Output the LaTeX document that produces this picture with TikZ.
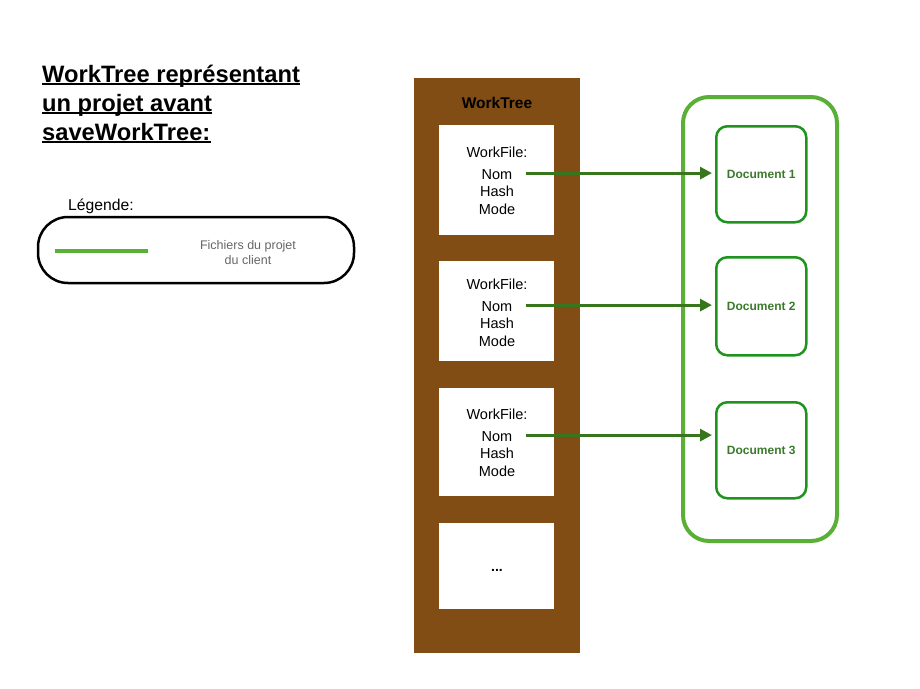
\documentclass[tikz,border=0pt]{standalone}
\usepackage{fontspec}
\setmainfont{Liberation Sans}
\usetikzlibrary{arrows.meta}
\definecolor{treebrown}{HTML}{814D14}
\definecolor{projgreen}{HTML}{5AAF37}
\definecolor{docgreen}{HTML}{1E931E}
\definecolor{linkgreen}{HTML}{38761D}
\definecolor{doctext}{HTML}{3A7A2A}
\newcommand{\fsz}[1]{\fontsize{#1}{#1}\selectfont}
\tikzset{
  titleline/.style={anchor=base west, inner sep=0pt, font=\bfseries\fsz{23.7}},
  fileline/.style={font=\fsz{14.5}, anchor=base, inner sep=0pt},
  docbox/.style={draw=docgreen, line width=2.5pt, rounded corners=11pt, anchor=north west, inner sep=0pt},
  doclabel/.style={font=\bfseries\fsz{12}, text=doctext, inner sep=0pt},
  link/.style={draw=linkgreen, line width=3pt, -{Triangle[length=12pt,width=12pt]}},
}
\begin{document}
\begin{tikzpicture}[x=1pt, y=-1pt, line join=round]
  \useasboundingbox (0,0) rectangle (920,688);
  % titre
  \node[titleline] (title1) at (42,82) {WorkTree représentant};
  \node[titleline] (title2) at (42,111) {un projet avant};
  \node[titleline] (title3) at (42,140) {saveWorkTree:};
  \foreach \t in {title1,title2,title3}
    \draw[line width=1.3pt] ([yshift=-2pt]\t.base west) -- ([yshift=-2pt]\t.base east);
  % legende
  \node[anchor=base west, inner sep=0pt, font=\fsz{15.7}] (legtitle) at (68,210) {Légende:};
  \draw[line width=2.5pt, rounded corners=30pt] (38,217) rectangle (354,283);
  \draw[projgreen, line width=3.5pt] (55,251) -- (148,251);
  \node[anchor=base, inner sep=0pt, font=\fsz{12.5}, text=black!60] (leg1) at (248,249) {Fichiers du projet};
  \node[anchor=base, inner sep=0pt, font=\fsz{12.5}, text=black!60] (leg2) at (248,264) {du client};
  % worktree
  \fill[treebrown] (414,78) rectangle (580,653);
  \node[anchor=base, inner sep=0pt, font=\bfseries\fsz{15.5}] (wt) at (497,108) {WorkTree};
  \fill[white] (439,125) rectangle (554,235);
  \fill[white] (439,261) rectangle (554,361);
  \fill[white] (439,388) rectangle (554,496);
  \fill[white] (439,523) rectangle (554,609);
  \foreach \i/\y in {1/157, 2/289, 3/419}{
    \node[fileline] (wf\i) at (497,\y) {WorkFile:};
    \node[fileline] (nom\i) at (497,\y+22) {Nom};
    \node[fileline] (hash\i) at (497,\y+39) {Hash};
    \node[fileline] (mode\i) at (497,\y+57) {Mode};
  }
  \node[fileline, font=\bfseries\fsz{14}] (dots) at (497,571) {...};
  % projet du client
  \draw[projgreen, line width=4pt, rounded corners=26pt] (683,97) rectangle (837,541);
  \node[docbox, minimum width=90pt, minimum height=96pt] (doc1) at (715,125) {};
  \node[docbox, minimum width=90pt, minimum height=98pt] (doc2) at (715,256) {};
  \node[docbox, minimum width=90pt, minimum height=96pt] (doc3) at (715,401) {};
  \foreach \i in {1,2,3}{
    \node[doclabel] (doc\i lab) at (doc\i) {Document \i};
  }
  % liens
  \foreach \i in {1,2,3}{
    \draw[link] ([xshift=13pt,yshift=1pt]nom\i.east) -- ([xshift=-3pt,yshift=1pt]nom\i.east -| doc\i.west);
  }
\end{tikzpicture}
\end{document}
